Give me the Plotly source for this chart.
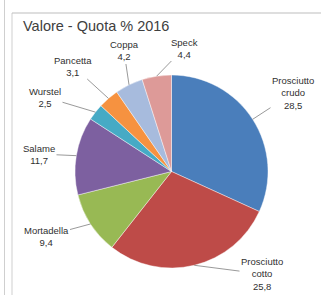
import numpy as np
import plotly.graph_objects as go

# ---- data ----
categories = ["Prosciutto crudo", "Prosciutto cotto", "Mortadella", "Salame",
              "Wurstel", "Pancetta", "Coppa", "Speck"]
label_text = ["Prosciutto<br>crudo<br>28,5", "Prosciutto<br>cotto<br>25,8",
              "Mortadella<br>9,4", "Salame<br>11,7", "Wurstel<br>2,5",
              "Pancetta<br>3,1", "Coppa<br>4,2", "Speck<br>4,4"]
values = [28.5, 25.8, 9.4, 11.7, 2.5, 3.1, 4.2, 4.4]
title_text = "Valore - Quota % 2016"

# ---- style ----
colors = ["#4A7EBB", "#BE4B48", "#98B954", "#7D60A0", "#46AAC5",
          "#F69240", "#A7BBDD", "#DD9A98"]
W, H = 321, 295
cx, cy, r = 171.5, 171.5, 96.5            # pie centre / radius in pixels
# label text positions (pixels)
label_pos = [(293, 93), (262, 274), (46, 236), (39, 154), (45, 97),
             (73, 66), (124, 51), (184, 48)]
FONT = "Liberation Sans Narrow, Arial Narrow, Liberation Sans, Arial"

fig = go.Figure(go.Pie(
    labels=categories, values=values, sort=False, direction="clockwise",
    rotation=0, textinfo="none", hoverinfo="label+value",
    marker=dict(colors=colors, line=dict(color="rgba(255,255,255,0.6)", width=0.7)),
    domain=dict(x=[(cx - r) / W, (cx + r) / W], y=[1 - (cy + r) / H, 1 - (cy - r) / H]),
    showlegend=False,
))

# leader lines + labels, anchored at the middle of each slice's rim
vals = np.array(values, dtype=float)
ends = np.cumsum(vals) / vals.sum() * 360.0
mids = ends - vals / vals.sum() * 180.0
for txt, ang, (lx, ly) in zip(label_text, mids, label_pos):
    a = np.deg2rad(ang)
    px, py = cx + r * np.sin(a), cy - r * np.cos(a)
    fig.add_annotation(
        x=px / W, y=1 - py / H, xref="paper", yref="paper",
        ax=lx - px, ay=ly - py, axref="pixel", ayref="pixel",
        text=txt, showarrow=True, arrowhead=0, arrowwidth=0.8,
        arrowcolor="#7f7f7f", standoff=0, startstandoff=0,
        font=dict(family=FONT, size=9.5, color="#303030"),
        align="center",
    )

fig.add_annotation(
    x=21 / W, y=1 - 26 / H, xref="paper", yref="paper", xanchor="left", yanchor="middle",
    text=title_text, showarrow=False,
    font=dict(family=FONT, size=14.5, color="#404040"),
)

# frame lines
fig.add_shape(type="line", xref="paper", yref="paper", x0=4.5 / W, x1=4.5 / W, y0=0, y1=1,
              line=dict(color="#cfcfcf", width=1))
fig.add_shape(type="line", xref="paper", yref="paper", x0=12 / W, x1=12 / W, y0=0, y1=1 - 13 / H,
              line=dict(color="#cfcfcf", width=1))
fig.add_shape(type="line", xref="paper", yref="paper", x0=12 / W, x1=1, y0=1 - 13 / H, y1=1 - 13 / H,
              line=dict(color="#bdbdbd", width=1.2))

fig.update_layout(
    width=W, height=H, margin=dict(l=0, r=0, t=0, b=0),
    paper_bgcolor="white", plot_bgcolor="white",
)
fig.write_html("out.html", config={"displayModeBar": False},
               post_script="document.body.style.margin='0';document.body.style.overflow='hidden';")
